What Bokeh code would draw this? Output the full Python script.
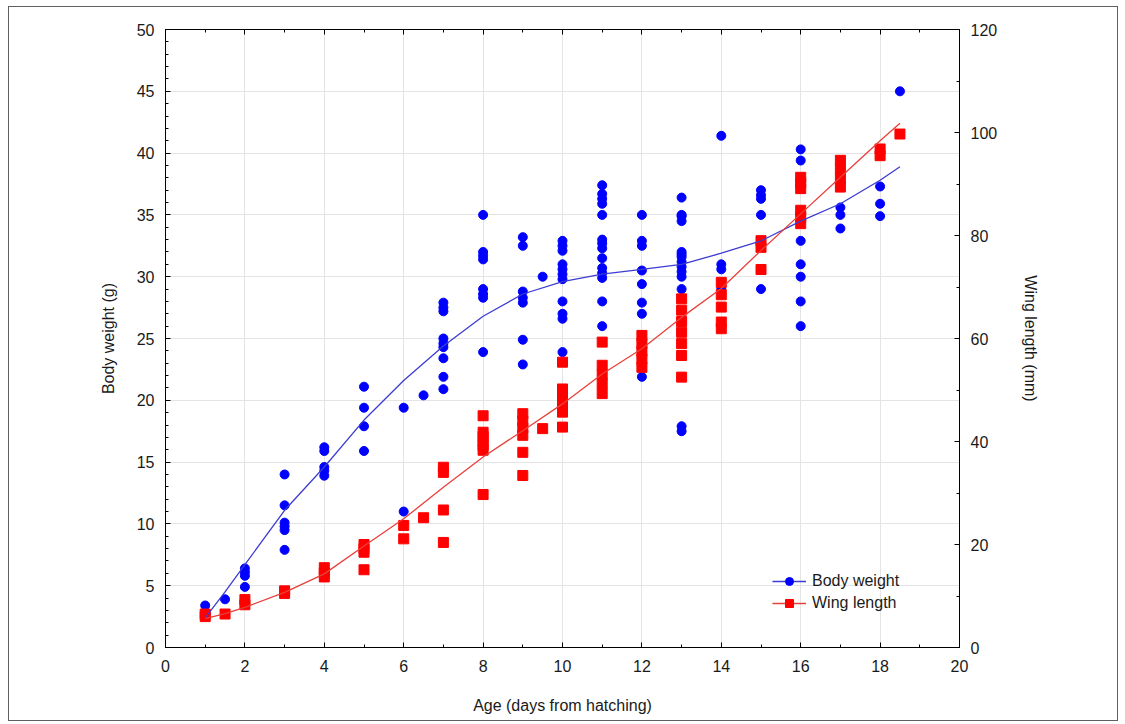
from bokeh.plotting import figure
from bokeh.models import (Range1d, LinearAxis, SingleIntervalTicker, Legend, LegendItem,
                          CustomJSTickFormatter)
from bokeh.embed import file_html
from bokeh.resources import INLINE

# ---------------- data ----------------
# Body weight (g), individual observations
bw_age = ([1] + [1.5] + [2] * 4 + [3] * 6 + [4] * 5 + [5] * 4 + [6] * 2 + [6.5] + [7] * 9 +
          [8] * 8 + [9] * 7 + [9.5] + [10] * 11 + [11] * 14 + [12] * 8 + [13] * 14 +
          [14] * 4 + [15] * 5 + [16] * 7 + [17] * 3 + [18] * 3 + [18.5])
bw_val = [3.4,
          3.9,
          6.4, 6.1, 5.8, 4.9,
          14.0, 11.5, 10.1, 9.8, 9.5, 7.9,
          16.2, 15.9, 14.6, 14.3, 13.9,
          21.1, 19.4, 17.9, 15.9,
          19.4, 11.0,
          20.4,
          27.9, 27.5, 27.2, 25.0, 24.6, 24.3, 23.4, 21.9, 20.9,
          35.0, 32.0, 31.7, 31.4, 29.0, 28.6, 28.3, 23.9,
          33.2, 32.5, 28.8, 28.3, 27.9, 24.9, 22.9,
          30.0,
          32.9, 32.5, 32.1, 31.0, 30.6, 30.2, 29.8, 28.0, 27.0, 26.6, 23.9,
          37.4, 36.7, 36.3, 35.9, 35.0, 33.0, 32.7, 32.3, 31.5, 30.7, 30.3, 29.9, 28.0, 26.0,
          35.0, 32.9, 32.5, 30.5, 29.4, 27.9, 27.0, 21.9,
          36.4, 34.9, 34.5, 32.0, 31.6, 31.2, 30.8, 30.4, 30.0, 29.0, 17.9, 17.5, 35.0, 31.8,
          41.4, 31.0, 30.6, 29.0,
          37.0, 36.6, 36.3, 35.0, 29.0,
          40.3, 39.4, 32.9, 31.0, 30.0, 28.0, 26.0,
          35.6, 35.0, 33.9,
          37.3, 35.9, 34.9,
          45.0]

# Wing length (mm), individual observations
wl_age = ([1] * 2 + [1.5] + [2] * 2 + [3] * 2 + [4] * 3 + [5] * 4 + [6] * 2 + [6.5] + [7] * 4 +
          [8] * 7 + [9] * 6 + [9.5] + [10] * 6 + [11] * 5 + [12] * 5 + [13] * 7 +
          [14] * 5 + [15] * 3 + [16] * 6 + [17] * 4 + [18] * 2 + [18.5])
wl_val = [6.0, 6.5,
          6.5,
          9.3, 8.3,
          11.0, 10.5,
          15.5, 14.5, 13.7,
          20.0, 19.2, 18.5, 15.1,
          23.7, 21.1,
          25.2,
          35.0, 34.0, 26.7, 20.4,
          45.0, 41.8, 41.0, 40.0, 39.2, 38.3, 29.7,
          45.4, 44.0, 42.6, 41.2, 37.9, 33.4,
          42.5,
          55.4, 50.2, 48.7, 47.2, 45.7, 42.8,
          59.3, 54.8, 53.0, 51.2, 49.3,
          60.6, 59.0, 57.5, 56.0, 54.4,
          67.7, 65.5, 63.3, 61.2, 59.0, 56.7, 52.5,
          70.9, 68.5, 66.1, 63.2, 61.9,
          79.0, 77.7, 73.4,
          91.3, 90.2, 89.1, 84.9, 83.6, 82.3,
          94.6, 92.9, 91.1, 89.4,
          96.8, 95.5,
          99.7]

# Fitted curves
fit_age = [1, 1.5, 2, 3, 4, 5, 6, 7, 8, 9, 10, 11, 12, 13, 14, 15, 16, 17, 18, 18.5]
bw_fit = [2.4, 4.5, 6.7, 11.1, 14.6, 18.4, 21.6, 24.4, 26.8, 28.6, 29.6, 30.2, 30.6, 31.0,
          31.9, 32.9, 34.5, 35.9, 37.8, 38.9]
wl_fit = [5.6, 6.6, 7.8, 10.7, 14.3, 19.7, 25.0, 31.1, 37.0, 42.1, 47.3, 53.1, 58.0, 64.1,
          69.7, 77.1, 84.2, 91.3, 98.4, 101.8]

x_label = "Age (days from hatching)"
y_label = "Body weight (g)"
y2_label = "Wing length (mm)"
series_names = ["Body weight", "Wing length"]

# ---------------- figure ----------------
FONT = "Liberation Sans"
TXT = "#1a1a1a"

p = figure(width=1110, height=715, output_backend="svg", toolbar_location=None,
           x_range=Range1d(0, 20), y_range=Range1d(0, 50),
           min_border_left=156, min_border_right=160, min_border_top=22, min_border_bottom=75,
           x_axis_location=None, y_axis_location=None)
p.styles = {"border": "1px solid #606060", "box-sizing": "border-box",
            "margin-left": "8px", "margin-top": "6px"}
p.extra_y_ranges = {"wing": Range1d(0, 120)}
p.outline_line_color = "black"
p.outline_line_width = 1
p.background_fill_color = "white"
p.border_fill_color = "white"

xt = SingleIntervalTicker(interval=2, num_minor_ticks=2)
yt = SingleIntervalTicker(interval=5, num_minor_ticks=5)
y2t = SingleIntervalTicker(interval=20, num_minor_ticks=2)


def style_axis(ax):
    ax.axis_line_color = "black"
    ax.major_tick_in = 5
    ax.major_tick_out = 0
    ax.minor_tick_in = 3
    ax.minor_tick_out = 0
    ax.major_tick_line_color = "black"
    ax.minor_tick_line_color = "black"
    ax.major_label_text_font = FONT
    ax.major_label_text_font_size = "16px"
    ax.major_label_text_color = TXT
    ax.axis_label_text_font = FONT
    ax.axis_label_text_font_size = "16px"
    ax.axis_label_text_font_style = "normal"
    ax.axis_label_text_color = TXT


xa = LinearAxis(ticker=xt, axis_label=x_label)
style_axis(xa)
xa.major_label_standoff = 12
xa.axis_label_standoff = 22
p.add_layout(xa, "below")

ta = LinearAxis(ticker=xt, formatter=CustomJSTickFormatter(code="return ''"))
style_axis(ta)
ta.major_label_text_font_size = "1px"
ta.major_label_standoff = 0
p.add_layout(ta, "above")

ya = LinearAxis(ticker=yt, axis_label=y_label)
style_axis(ya)
ya.major_label_standoff = 11
ya.axis_label_standoff = 17
p.add_layout(ya, "left")

y2a = LinearAxis(ticker=y2t, y_range_name="wing", axis_label=y2_label)
style_axis(y2a)
y2a.major_label_standoff = 11
y2a.axis_label_standoff = 22
p.add_layout(y2a, "right")

p.xgrid.ticker = xt
p.ygrid.ticker = yt
p.xgrid.grid_line_color = "#e4e4e4"
p.ygrid.grid_line_color = "#e4e4e4"

BLUE = "#0000ff"
RED = "#ff0000"

r_bw = p.scatter(bw_age, bw_val, marker="circle", size=9, fill_color=BLUE, line_color=BLUE)
r_wl = p.scatter(wl_age, wl_val, marker="square", size=10, fill_color=RED, line_color=RED,
                 y_range_name="wing")
l_bw = p.line(fit_age, bw_fit, line_color="#3c3cd2", line_width=1.3)
l_wl = p.line(fit_age, wl_fit, line_color="#e8403a", line_width=1.3, y_range_name="wing")

legend = Legend(items=[LegendItem(label=series_names[0], renderers=[l_bw, r_bw]),
                       LegendItem(label=series_names[1], renderers=[l_wl, r_wl])],
                location=(607, 34))
legend.background_fill_alpha = 0
legend.border_line_alpha = 0
legend.label_text_font = FONT
legend.label_text_font_size = "16px"
legend.label_text_color = TXT
legend.glyph_width = 34
legend.glyph_height = 20
legend.label_height = 20
legend.label_standoff = 6
legend.spacing = 2
legend.padding = 0
legend.margin = 0
p.add_layout(legend, "center")

open("out.html", "w").write(file_html(p, INLINE))
